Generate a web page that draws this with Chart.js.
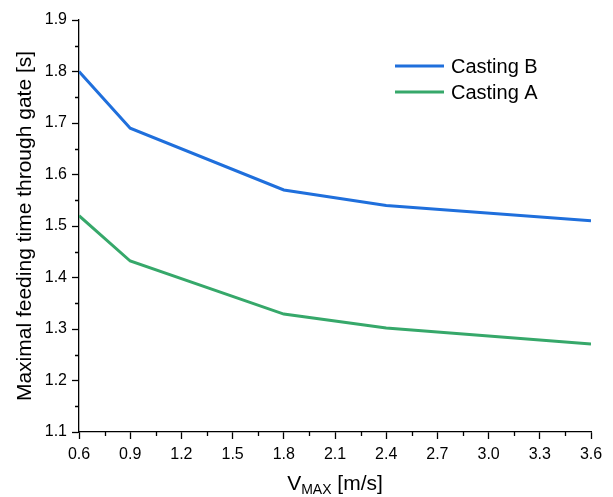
<!DOCTYPE html>
<html>
<head>
<meta charset="utf-8">
<script src="https://cdn.jsdelivr.net/npm/chart.js@4"></script>
<style>
  html, body { margin: 0; padding: 0; background: #fff; }
  #wrap { width: 613px; height: 497px; position: relative; }
</style>
</head>
<body>
<div id="wrap"><canvas id="chart"></canvas></div>
<script>
const vMax = [0.6, 0.9, 1.8, 2.4, 3.6];
const castingB = [1.80, 1.69, 1.57, 1.54, 1.51];
const castingA = [1.52, 1.432, 1.329, 1.302, 1.271];
const xTicks = [0.6, 0.9, 1.2, 1.5, 1.8, 2.1, 2.4, 2.7, 3.0, 3.3, 3.6];
const yTicks = [1.1, 1.2, 1.3, 1.4, 1.5, 1.6, 1.7, 1.8, 1.9];

const FONT = '"Liberation Sans", Arial, sans-serif';

// minor ticks, x axis title with subscript, legend inside plot
const extras = {
    id: 'extras',
    afterDraw(chart) {
        const c = chart.ctx;
        const xs = chart.scales.x, ys = chart.scales.y;
        c.save();
        c.strokeStyle = '#000';
        c.lineWidth = 1.3;
        c.beginPath();
        for (let i = 0; i < xTicks.length - 1; i++) {
            const px = Math.round(xs.getPixelForValue((xTicks[i] + xTicks[i + 1]) / 2)) + 0.5;
            c.moveTo(px, ys.bottom);
            c.lineTo(px, ys.bottom + 4);
        }
        for (let i = 0; i < yTicks.length - 1; i++) {
            const py = Math.round(ys.getPixelForValue((yTicks[i] + yTicks[i + 1]) / 2)) + 0.5;
            c.moveTo(xs.left, py);
            c.lineTo(xs.left - 4, py);
        }
        c.stroke();

        // x title
        c.fillStyle = '#000';
        c.textBaseline = 'alphabetic';
        c.textAlign = 'left';
        const big = '21px ' + FONT, small = '14px ' + FONT;
        c.font = big;
        const wV = c.measureText('V').width;
        const wR = c.measureText(' [m/s]').width;
        c.font = small;
        const wS = c.measureText('MAX').width;
        let x0 = (xs.left + xs.right) / 2 - (wV + wS + wR) / 2;
        const base = 490;
        c.font = big;
        c.fillText('V', x0, base);
        c.font = small;
        c.fillText('MAX', x0 + wV, base + 4);
        c.font = big;
        c.fillText(' [m/s]', x0 + wV + wS, base);

        // legend
        c.font = '20px ' + FONT;
        c.textBaseline = 'middle';
        chart.data.datasets.forEach((ds, i) => {
            const ly = 66 + i * 26;
            c.strokeStyle = ds.borderColor;
            c.lineWidth = 3;
            c.beginPath();
            c.moveTo(395, ly);
            c.lineTo(444, ly);
            c.stroke();
            c.fillStyle = '#000';
            c.fillText(ds.label, 451, ly + 1);
        });
        c.restore();
    }
};

new Chart(document.getElementById('chart'), {
    type: 'line',
    data: {
        datasets: [
            {
                label: 'Casting B',
                data: vMax.map((x, i) => ({ x: x, y: castingB[i] })),
                borderColor: '#1f6fdc',
                borderWidth: 3,
                pointRadius: 0,
                tension: 0
            },
            {
                label: 'Casting A',
                data: vMax.map((x, i) => ({ x: x, y: castingA[i] })),
                borderColor: '#36a86a',
                borderWidth: 3,
                pointRadius: 0,
                tension: 0
            }
        ]
    },
    options: {
        responsive: true,
        maintainAspectRatio: false,
        animation: false,
        layout: { padding: { top: 20, right: 22, left: 0, bottom: 0 } },
        plugins: {
            legend: { display: false },
            tooltip: { enabled: false }
        },
        scales: {
            x: {
                type: 'linear',
                min: 0.6,
                max: 3.6,
                afterBuildTicks: s => { s.ticks = xTicks.map(v => ({ value: v })); },
                afterFit: s => { s.height = 65; },
                border: { color: '#000', width: 1.3 },
                grid: { drawOnChartArea: false, tickLength: 7, tickColor: '#000', tickWidth: 1.3 },
                ticks: {
                    color: '#000',
                    padding: 6,
                    maxRotation: 0,
                    font: { family: FONT, size: 16 },
                    callback: v => v.toFixed(1)
                }
            },
            y: {
                type: 'linear',
                min: 1.1,
                max: 1.9,
                afterBuildTicks: s => { s.ticks = yTicks.map(v => ({ value: v })); },
                afterFit: s => { s.width = 79; },
                border: { color: '#000', width: 1.3 },
                grid: { drawOnChartArea: false, tickLength: 7, tickColor: '#000', tickWidth: 1.3 },
                title: {
                    display: true,
                    text: 'Maximal feeding time through gate [s]',
                    color: '#000',
                    font: { family: FONT, size: 21 },
                    padding: { top: 13, bottom: 0 }
                },
                ticks: {
                    color: '#000',
                    padding: 5,
                    font: { family: FONT, size: 16 },
                    callback: v => v.toFixed(1)
                }
            }
        }
    },
    plugins: [extras]
});
</script>
</body>
</html>
